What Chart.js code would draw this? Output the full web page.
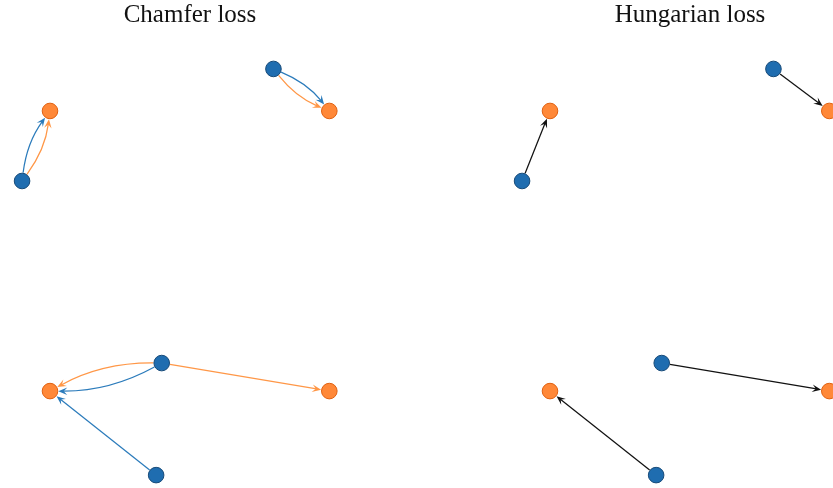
<!DOCTYPE html>
<html>
<head>
<meta charset="utf-8">
<script src="https://cdn.jsdelivr.net/npm/chart.js@4.4.1/dist/chart.umd.min.js"></script>
<style>
  html, body { margin:0; padding:0; background:#fff; overflow:hidden; width:833px; height:488px; }
  .panel { position:absolute; top:0; width:380px; height:488px; }
</style>
</head>
<body>
<div class="panel" style="left:0"><canvas id="chamfer"></canvas></div>
<div class="panel" style="left:500px"><canvas id="hungarian"></canvas></div>
<script>
// ── Data ───────────────────────────────────────
const predX   = [-0.10, 0.80, 0.40, 0.38];   // blue points
const predY   = [ 0.75, 1.15, 0.10, -0.30];
const targetX = [0, 1, 0, 1];                // orange points
const targetY = [1, 1, 0, 0];
const hungarianMatch = [0, 1, 3, 2];         // pred i -> target
const titles = ['Chamfer loss', 'Hungarian loss'];

const BLUE = '#1f6db0', BLUE_EDGE = '#174a78';
const ORANGE = '#ff8838', ORANGE_EDGE = '#e0600f';
const BLUE_ARROW = '#2b7bbb', ORANGE_ARROW = '#ff9747';
const R = 8.3;

function nearest(px, py, xs, ys) {
  let best = 0, bd = Infinity;
  xs.forEach((x, i) => { const d = (x-px)**2 + (ys[i]-py)**2; if (d < bd) { bd = d; best = i; } });
  return best;
}

// chamfer arrows: pred -> nearest target (blue), and target's nearest pred -> target (orange)
const blueLinks = predX.map((x, i) => [i, nearest(x, predY[i], targetX, targetY)]);
const orangeLinks = targetX.map((x, j) => [nearest(x, targetY[j], predX, predY), j]);
const has = (list, p, t) => list.some(l => l[0] === p && l[1] === t);
const chamferArrows = [
  ...blueLinks.map(([p,t]) => ({ p, t, color: BLUE_ARROW,   rad: has(orangeLinks,p,t) ?  0.13 : 0 })),
  ...orangeLinks.map(([p,t]) => ({ p, t, color: ORANGE_ARROW, rad: has(blueLinks,p,t)  ? -0.13 : 0 })),
];
const hungarianArrows = hungarianMatch.map((t, p) => ({ p, t, color: '#111', rad: 0 }));

// ── Arrow plugin ───────────────────────────────
function unit(x, y) { const l = Math.hypot(x, y) || 1; return [x/l, y/l]; }

function drawArrow(ctx, a, b, color, rad) {
  const dx = b.x - a.x, dy = b.y - a.y;
  const c = { x: (a.x+b.x)/2 + rad*dy, y: (a.y+b.y)/2 - rad*dx };
  const u1 = unit(c.x - a.x, c.y - a.y), u2 = unit(c.x - b.x, c.y - b.y);
  const s = { x: a.x + R*u1[0], y: a.y + R*u1[1] };
  const e = { x: b.x + R*u2[0], y: b.y + R*u2[1] };
  const dir = [-u2[0], -u2[1]], perp = [-dir[1], dir[0]];
  const L = 9, W = 7.5;
  ctx.save();
  ctx.strokeStyle = color; ctx.fillStyle = color; ctx.lineWidth = 1.25;
  ctx.beginPath();
  ctx.moveTo(s.x, s.y);
  ctx.quadraticCurveTo(c.x, c.y, e.x - dir[0]*L*0.5, e.y - dir[1]*L*0.5);
  ctx.stroke();
  ctx.beginPath();
  ctx.moveTo(e.x, e.y);
  ctx.lineTo(e.x - dir[0]*L + perp[0]*W/2, e.y - dir[1]*L + perp[1]*W/2);
  ctx.lineTo(e.x - dir[0]*L*0.6, e.y - dir[1]*L*0.6);
  ctx.lineTo(e.x - dir[0]*L - perp[0]*W/2, e.y - dir[1]*L - perp[1]*W/2);
  ctx.closePath();
  ctx.fill();
  ctx.restore();
}

const arrowPlugin = {
  id: 'arrows',
  beforeDatasetsDraw(chart, args, opts) {
    const xs = chart.scales.x, ys = chart.scales.y, ctx = chart.ctx;
    opts.list.forEach(ar => {
      const a = { x: xs.getPixelForValue(predX[ar.p]),   y: ys.getPixelForValue(predY[ar.p]) };
      const b = { x: xs.getPixelForValue(targetX[ar.t]), y: ys.getPixelForValue(targetY[ar.t]) };
      drawArrow(ctx, a, b, ar.color, ar.rad);
    });
  }
};

// ── Charts ─────────────────────────────────────
function makeChart(id, title, arrows) {
  return new Chart(document.getElementById(id), {
    type: 'scatter',
    data: {
      datasets: [
        { data: targetX.map((x, i) => ({ x, y: targetY[i] })), backgroundColor: ORANGE, borderColor: ORANGE_EDGE,
          borderWidth: 1, pointRadius: R - 0.5, pointHoverRadius: R - 0.5 },
        { data: predX.map((x, i) => ({ x, y: predY[i] })), backgroundColor: BLUE, borderColor: BLUE_EDGE,
          borderWidth: 1, pointRadius: R - 0.5, pointHoverRadius: R - 0.5 },
      ]
    },
    options: {
      responsive: true, maintainAspectRatio: false, animation: false, events: [],
      layout: { padding: 0, autoPadding: false },
      plugins: {
        legend: { display: false }, tooltip: { enabled: false },
        title: { display: true, text: title, color: '#111', padding: { top: 0, bottom: 0 },
                 font: { family: '"Liberation Serif", serif', size: 25, weight: 'normal', lineHeight: 1.2 } },
        arrows: { list: arrows }
      },
      scales: {
        x: { type: 'linear', display: false, min: -0.179, max: 1.1815 },
        y: { type: 'linear', display: false, min: -0.346, max: 1.289 }
      }
    },
    plugins: [arrowPlugin]
  });
}

makeChart('chamfer', titles[0], chamferArrows);
makeChart('hungarian', titles[1], hungarianArrows);
</script>
</body>
</html>
